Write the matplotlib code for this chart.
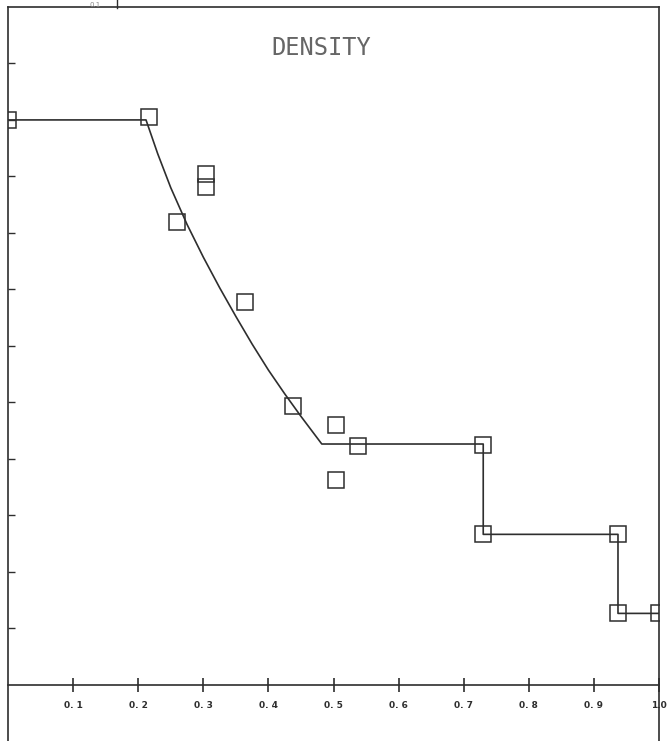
import matplotlib
matplotlib.use("Agg")
import matplotlib.pyplot as plt

# Solid curve
curve_x = [0.0, 0.212, 0.23, 0.25, 0.275, 0.30, 0.325, 0.35, 0.375, 0.40, 0.425, 0.45, 0.482,
           0.730, 0.730, 0.937, 0.937, 1.0]
curve_y = [1.0, 1.0, 0.940, 0.880, 0.815, 0.757, 0.703, 0.652, 0.603, 0.557, 0.515, 0.475, 0.426,
           0.426, 0.266, 0.266, 0.126, 0.126]

# Square markers
pts_x = [0.0, 0.217, 0.260, 0.304, 0.304, 0.364, 0.438, 0.504, 0.538, 0.504,
         0.730, 0.730, 0.937, 0.937, 1.0]
pts_y = [1.0, 1.005, 0.820, 0.905, 0.882, 0.677, 0.494, 0.459, 0.422, 0.363,
         0.425, 0.266, 0.266, 0.126, 0.126]

xticks = [0.1, 0.2, 0.3, 0.4, 0.5, 0.6, 0.7, 0.8, 0.9, 1.0]
xticklabels = ["0. 1", "0. 2", "0. 3", "0. 4", "0. 5", "0. 6", "0. 7", "0. 8", "0. 9", "1.0"]
yticks = [0.1, 0.2, 0.3, 0.4, 0.5, 0.6, 0.7, 0.8, 0.9, 1.0, 1.1]

ink = "#2e2e2e"

fig = plt.figure(figsize=(6.70, 7.41), dpi=100)
ax = fig.add_axes([8 / 670, 0.0, 651 / 670, 734 / 741])
ax.set_xlim(0.0, 1.0)
ax.set_ylim(-0.1, 1.2)

ax.plot(curve_x, curve_y, color=ink, lw=1.2, zorder=3)
ax.plot(pts_x, pts_y, ls="none", marker="s", ms=11.5, mfc="none", mec=ink, mew=1.1, zorder=4)

for s in ["left", "right", "top", "bottom"]:
    ax.spines[s].set_color(ink)
    ax.spines[s].set_linewidth(1.2)
ax.spines["bottom"].set_position(("data", 0))

ax.set_xticks(xticks)
ax.set_xticklabels(xticklabels, fontsize=6.5, fontweight="bold", color=ink, family="DejaVu Sans")
ax.tick_params(axis="x", direction="inout", length=10, width=1.2, color=ink, pad=7)
ax.set_yticks(yticks)
ax.set_yticklabels([])
ax.tick_params(axis="y", direction="in", length=5, width=1.0, color=ink)

ax.text(0.481, 1.127, "DENSITY", ha="center", va="center", fontsize=17,
        family="DejaVu Sans Mono", color="#666666")

# remnant of the neighbouring plot above the frame
fig.text(95 / 670, 1 - 5 / 741, "0.1", fontsize=5, color="#888888", ha="center", va="center")
fig.add_artist(plt.Line2D([117 / 670, 117 / 670], [1 - 8 / 741, 1.0], color=ink, lw=1.0))

fig.savefig("out.png", dpi=100, facecolor="white")
